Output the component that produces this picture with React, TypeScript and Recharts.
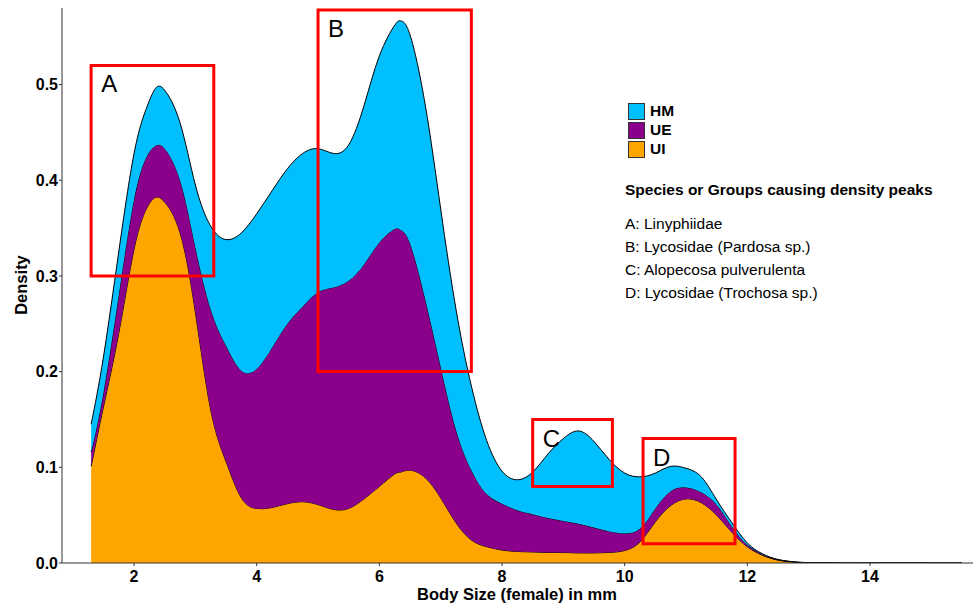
import { AreaChart, Area, XAxis, YAxis, ReferenceArea } from 'recharts';

const FONT = '"Liberation Sans", Arial, Helvetica, sans-serif';

// body size (mm) and per-group density layers (stacked UI -> UE -> HM)
const sizes = [
  1.3, 1.5, 1.75, 2.0, 2.2, 2.35, 2.5, 2.75, 3.0, 3.25, 3.5, 3.75, 4.0, 4.25, 4.5, 4.75,
  5.0, 5.25, 5.5, 5.75, 6.0, 6.25, 6.35, 6.5, 6.75, 7.0, 7.25, 7.5, 7.75, 8.0, 8.25, 8.5,
  8.75, 9.0, 9.25, 9.5, 9.75, 10.0, 10.25, 10.5, 10.75, 11.0, 11.25, 11.5, 11.75, 12.0,
  12.25, 12.5, 12.75, 13.0, 13.5, 14.0, 15.0, 15.5,
];
const uiDensity = [
  0.101, 0.163, 0.24, 0.328, 0.37, 0.382, 0.377, 0.345, 0.262, 0.16, 0.106, 0.068, 0.057,
  0.058, 0.062, 0.064, 0.061, 0.056, 0.057, 0.067, 0.08, 0.093, 0.095, 0.097, 0.089, 0.068,
  0.042, 0.024, 0.017, 0.0135, 0.012, 0.0115, 0.011, 0.011, 0.0105, 0.0105, 0.011, 0.013,
  0.022, 0.043, 0.06, 0.067, 0.063, 0.05, 0.032, 0.017, 0.008, 0.003, 0.001, 0.0003, 0, 0, 0, 0,
];
const ueDensity = [
  0.015, 0.015, 0.04, 0.052, 0.054, 0.054, 0.056, 0.055, 0.068, 0.105, 0.121, 0.133, 0.146,
  0.167, 0.188, 0.204, 0.222, 0.232, 0.238, 0.245, 0.255, 0.256, 0.253, 0.237, 0.186, 0.137,
  0.097, 0.073, 0.055, 0.0485, 0.043, 0.0395, 0.036, 0.033, 0.0305, 0.0265, 0.022, 0.018,
  0.014, 0.014, 0.015, 0.012, 0.011, 0.011, 0.006, 0.002, 0.001, 0.0004, 0.0002, 0.0001, 0, 0, 0, 0,
];
const hmDensity = [
  0.029, 0.037, 0.045, 0.048, 0.051, 0.06, 0.061, 0.06, 0.065, 0.087, 0.111, 0.144, 0.162,
  0.164, 0.162, 0.16, 0.15, 0.14, 0.142, 0.166, 0.195, 0.213, 0.2185, 0.218, 0.203, 0.165,
  0.126, 0.088, 0.056, 0.034, 0.032, 0.044, 0.067, 0.086, 0.097, 0.09, 0.075, 0.063, 0.054,
  0.037, 0.026, 0.02, 0.016, 0.005, 0.004, 0.002, 0.0005, 0.0003, 0.0001, 0, 0, 0, 0, 0,
];

const xTicks = [2, 4, 6, 8, 10, 12, 14];
const yTicks = [0, 0.1, 0.2, 0.3, 0.4, 0.5];

// highlighted peaks: label, x range, y range
const peakLabels = ['A', 'B', 'C', 'D'];
const peakX = [[1.3, 3.3], [5.0, 7.5], [8.5, 9.8], [10.3, 11.8]];
const peakY = [[0.3, 0.52], [0.2, 0.578], [0.08, 0.15], [0.02, 0.13]];

const groups = ['HM', 'UE', 'UI'];
const groupColors = ['#00BFFF', '#8B008B', '#FFA500'];

const peakNotes = [
  'A: Linyphiidae',
  'B: Lycosidae (Pardosa sp.)',
  'C: Alopecosa pulverulenta',
  'D: Lycosidae (Trochosa sp.)',
];

const data = sizes.map((x, i) => ({
  x,
  UI: uiDensity[i],
  UE: ueDensity[i],
  HM: hmDensity[i],
}));

const tickStyle = { fill: '#000', fontSize: 16, fontWeight: 'bold', fontFamily: FONT };

export default function App() {
  return (
    <div style={{ position: 'absolute', left: 0, top: 0, width: 975, height: 606, background: '#fff', fontFamily: FONT }}>
      <AreaChart width={975} height={606} data={data} margin={{ top: 8, right: 2, bottom: 0, left: 0 }}>
        <XAxis
          type="number"
          dataKey="x"
          domain={[0.825, 15.68]}
          ticks={xTicks}
          allowDataOverflow
          height={43}
          tickSize={3}
          tickMargin={5}
          tick={tickStyle}
          axisLine={{ stroke: '#333' }}
          tickLine={{ stroke: '#333' }}
        />
        <YAxis
          type="number"
          domain={[0, 0.58]}
          ticks={yTicks}
          allowDataOverflow
          width={62}
          tickSize={3}
          tickMargin={1}
          tick={tickStyle}
          tickFormatter={(v: number) => v.toFixed(1)}
          axisLine={{ stroke: '#333' }}
          tickLine={{ stroke: '#333' }}
        />
        <Area type="natural" dataKey="UI" stackId="1" stroke="#000" strokeWidth={1} fill="#FFA500" fillOpacity={1} dot={false} activeDot={false} isAnimationActive={false} />
        <Area type="natural" dataKey="UE" stackId="1" stroke="#000" strokeWidth={1} fill="#8B008B" fillOpacity={1} dot={false} activeDot={false} isAnimationActive={false} />
        <Area type="natural" dataKey="HM" stackId="1" stroke="#000" strokeWidth={1} fill="#00BFFF" fillOpacity={1} dot={false} activeDot={false} isAnimationActive={false} />
        {peakLabels.map((lab, i) => (
          <ReferenceArea
            key={lab}
            x1={peakX[i][0]}
            x2={peakX[i][1]}
            y1={peakY[i][0]}
            y2={peakY[i][1]}
            fill="none"
            fillOpacity={0}
            stroke="#ff0000"
            strokeWidth={3}
            ifOverflow="visible"
            label={{ value: lab, position: 'insideTopLeft', offset: 10, fontSize: 24, fill: '#000', fontFamily: FONT }}
          />
        ))}
      </AreaChart>

      {/* axis titles */}
      <div style={{ position: 'absolute', left: 517, top: 594, transform: 'translate(-50%, -50%)', fontSize: 16.5, fontWeight: 'bold', whiteSpace: 'nowrap' }}>
        Body Size (female) in mm
      </div>
      <div style={{ position: 'absolute', left: 21, top: 285, transform: 'translate(-50%, -50%) rotate(-90deg)', fontSize: 16.5, fontWeight: 'bold', whiteSpace: 'nowrap' }}>
        Density
      </div>

      {/* legend */}
      {groups.map((g, i) => (
        <div key={g} style={{ position: 'absolute', left: 628, top: 102 + i * 19, height: 18, display: 'flex', alignItems: 'center' }}>
          <div style={{ width: 17, height: 17, background: groupColors[i], border: '1px solid #333', boxSizing: 'border-box' }} />
          <span style={{ marginLeft: 5, fontSize: 15.5, fontWeight: 'bold' }}>{g}</span>
        </div>
      ))}

      {/* peak notes */}
      <div style={{ position: 'absolute', left: 625, top: 190, transform: 'translateY(-50%)', fontSize: 15.5, fontWeight: 'bold', whiteSpace: 'nowrap' }}>
        Species or Groups causing density peaks
      </div>
      {peakNotes.map((t, i) => (
        <div key={t} style={{ position: 'absolute', left: 625, top: 224 + i * 23, transform: 'translateY(-50%)', fontSize: 15.5, whiteSpace: 'nowrap' }}>
          {t}
        </div>
      ))}
    </div>
  );
}
